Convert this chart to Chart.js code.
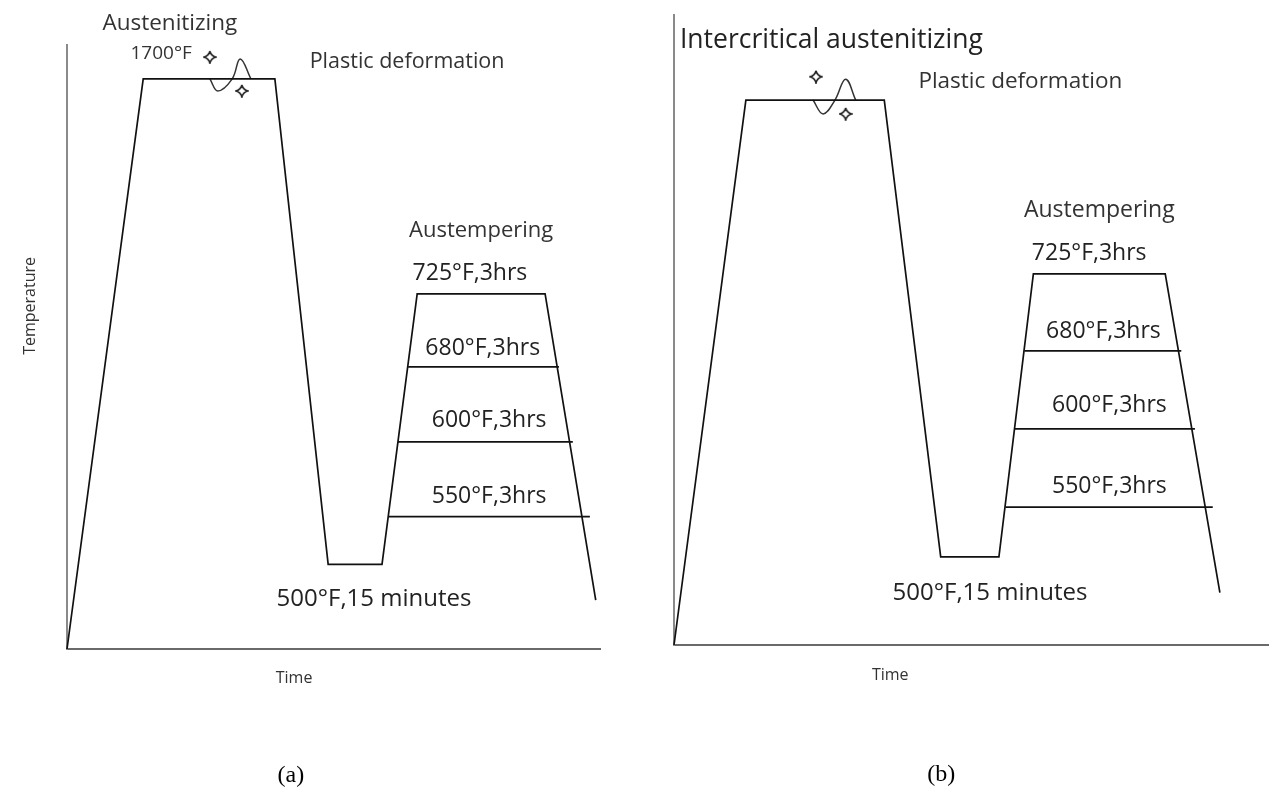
<!DOCTYPE html>
<html>
<head>
<meta charset="utf-8">
<script src="https://cdn.jsdelivr.net/npm/chart.js@4.4.0/dist/chart.umd.min.js"></script>
<style>
    html, body { margin:0; padding:0; background:#fff; }
    #wrap { position:relative; width:1276px; height:807px; overflow:hidden; }
    .panel { position:absolute; top:0; width:638px; height:807px; }
    #panelA { left:0; }
    #panelB { left:638px; }
</style>
</head>
<body>
<div id="wrap">
    <div class="panel" id="panelA"><canvas id="chartA" width="638" height="807"></canvas></div>
    <div class="panel" id="panelB"><canvas id="chartB" width="638" height="807"></canvas></div>
</div>
<script>
// schematic units: time 0..100 along the x axis, temperature level 0..100 up the y axis
const holdNames = ['680°F,3hrs', '600°F,3hrs', '550°F,3hrs']
const holdTemp = [46.7, 34.3, 21.9]

// (a) austenitizing at 1700°F
const aTime = [0, 14.3, 39.0, 49.0, 59.1, 65.7, 89.7, 99.2]
const aTemp = [0, 94.4, 94.4, 14.0, 14.0, 58.8, 58.8, 8.1]
const aHoldStart = [64.0, 62.1, 60.4]
const aHoldEnd = [92.3, 94.9, 98.1]
const aWaveTime = [26.8, 28.3, 31.0, 32.5, 34.5]
const aWaveTemp = [94.4, 92.4, 94.4, 97.7, 94.4]
const aMarkTime = [26.8, 32.8]
const aMarkTemp = [98.0, 92.4]

// (b) intercritical austenitizing
const bTime = [0, 12.1, 35.4, 44.9, 54.7, 60.5, 82.7, 91.9]
const bTemp = [0, 86.5, 86.5, 14.0, 14.0, 58.9, 58.9, 8.3]
const bHoldStart = [59.0, 57.3, 55.8]
const bHoldEnd = [85.4, 87.7, 90.7]
const bWaveTime = [23.4, 25.1, 27.1, 28.9, 30.6]
const bWaveTemp = [86.5, 84.3, 86.5, 89.8, 86.5]
const bMarkTime = [23.9, 28.9]
const bMarkTemp = [90.2, 84.3]

const SANS = '"Open Sans", "Noto Sans", sans-serif'
const SERIF = '"Liberation Serif", "DejaVu Serif", serif'

function pts(xs, ys) {
    return xs.map((x, i) => ({ x: x, y: ys[i] }))
}

function sparkle(size) {
    const c = document.createElement('canvas')
    c.width = c.height = size
    const g = c.getContext('2d')
    const m = size / 2, r = size / 2 - 1
    g.strokeStyle = '#222'
    g.lineWidth = 1.6
    g.beginPath()
    g.moveTo(m, m - r)
    g.quadraticCurveTo(m + 1.2, m - 1.2, m + r, m)
    g.quadraticCurveTo(m + 1.2, m + 1.2, m, m + r)
    g.quadraticCurveTo(m - 1.2, m + 1.2, m - r, m)
    g.quadraticCurveTo(m - 1.2, m - 1.2, m, m - r)
    g.stroke()
    return c
}

function textLayer(items) {
    return {
        id: 'textLayer',
        afterDraw(chart) {
            const { ctx, scales: { x, y } } = chart
            items.forEach((it) => {
                ctx.save()
                ctx.font = it.font
                ctx.fillStyle = it.color || '#333'
                ctx.textAlign = it.align || 'center'
                ctx.textBaseline = 'middle'
                ctx.translate(x.getPixelForValue(it.x), y.getPixelForValue(it.y))
                if (it.rotate) ctx.rotate(-Math.PI / 2)
                ctx.fillText(it.text, 0, 0)
                ctx.restore()
            })
        }
    }
}

function makeChart(id, d, pad, items) {
    const line = { borderColor: '#111', borderWidth: 1.7, pointRadius: 0, showLine: true, fill: false, clip: false }
    const datasets = [
        { ...line, data: pts(d.time, d.temp) },
        { ...line, data: pts(d.waveTime, d.waveTemp), tension: 0.4, borderWidth: 1.5, borderColor: '#333' },
        { data: pts(d.markTime, d.markTemp), pointStyle: sparkle(14), pointRadius: 7, showLine: false, clip: false }
    ]
    holdTemp.forEach((t, i) => {
        datasets.push({ ...line, data: [{ x: d.holdStart[i], y: t }, { x: d.holdEnd[i], y: t }] })
    })

    return new Chart(document.getElementById(id), {
        type: 'scatter',
        data: { datasets: datasets },
        options: {
            responsive: false,
            animation: false,
            events: [],
            layout: { padding: pad },
            plugins: { legend: { display: false }, tooltip: { enabled: false } },
            scales: {
                x: {
                    type: 'linear', min: 0, max: 100,
                    ticks: { display: false },
                    grid: { display: false, drawTicks: false },
                    border: { display: true, color: '#6a6a6a', width: 2 }
                },
                y: {
                    type: 'linear', min: 0, max: 100,
                    ticks: { display: false },
                    grid: { display: false, drawTicks: false },
                    border: { display: true, color: '#8a8a8a', width: 2 }
                }
            }
        },
        plugins: [textLayer(items)]
    })
}

const aText = [
    { text: 'Austenitizing', x: 19.3, y: 103.6, font: '22.5px ' + SANS },
    { text: '1700°F', x: 11.9, y: 98.5, font: '19px ' + SANS, align: 'left' },
    { text: 'Plastic deformation', x: 63.8, y: 97.2, font: '21.5px ' + SANS },
    { text: 'Austempering', x: 77.7, y: 69.2, font: '22px ' + SANS },
    { text: '725°F,3hrs', x: 75.6, y: 62.1, font: '23px ' + SANS, color: '#222' },
    { text: holdNames[0], x: 78.0, y: 49.7, font: '23px ' + SANS, color: '#222' },
    { text: holdNames[1], x: 79.2, y: 37.9, font: '23px ' + SANS, color: '#222' },
    { text: holdNames[2], x: 79.2, y: 25.2, font: '23px ' + SANS, color: '#222' },
    { text: '500°F,15 minutes', x: 57.6, y: 8.3, font: '24px ' + SANS, color: '#222' },
    { text: 'Temperature', x: -6.9, y: 56.8, font: '16px ' + SANS, rotate: true },
    { text: 'Time', x: 42.6, y: -4.8, font: '16px ' + SANS },
    { text: '(a)', x: 42.0, y: -21.0, font: '24px ' + SERIF, color: '#000' }
]

const bText = [
    { text: 'Intercritical austenitizing', x: 1.0, y: 96.0, font: '26.5px ' + SANS, align: 'left', color: '#222' },
    { text: 'Plastic deformation', x: 58.3, y: 89.4, font: '22.5px ' + SANS },
    { text: 'Austempering', x: 71.6, y: 69.0, font: '23px ' + SANS },
    { text: '725°F,3hrs', x: 69.9, y: 62.1, font: '23px ' + SANS, color: '#222' },
    { text: holdNames[0], x: 72.3, y: 49.8, font: '23px ' + SANS, color: '#222' },
    { text: holdNames[1], x: 73.3, y: 38.1, font: '23px ' + SANS, color: '#222' },
    { text: holdNames[2], x: 73.3, y: 25.2, font: '23px ' + SANS, color: '#222' },
    { text: '500°F,15 minutes', x: 53.2, y: 8.3, font: '24px ' + SANS, color: '#222' },
    { text: 'Temperature', x: -7.8, y: 56.0, font: '16px ' + SANS, rotate: true },
    { text: 'Time', x: 36.4, y: -4.8, font: '16px ' + SANS },
    { text: '(b)', x: 45.0, y: -20.6, font: '24px ' + SERIF, color: '#000' }
]

makeChart('chartA', {
    time: aTime, temp: aTemp, holdStart: aHoldStart, holdEnd: aHoldEnd,
    waveTime: aWaveTime, waveTemp: aWaveTemp, markTime: aMarkTime, markTemp: aMarkTemp
}, { left: 67, right: 38, top: 45, bottom: 158 }, aText)

makeChart('chartB', {
    time: bTime, temp: bTemp, holdStart: bHoldStart, holdEnd: bHoldEnd,
    waveTime: bWaveTime, waveTemp: bWaveTemp, markTime: bMarkTime, markTemp: bMarkTemp
}, { left: 36, right: 0, top: 15, bottom: 162 }, bText)
</script>
</body>
</html>
